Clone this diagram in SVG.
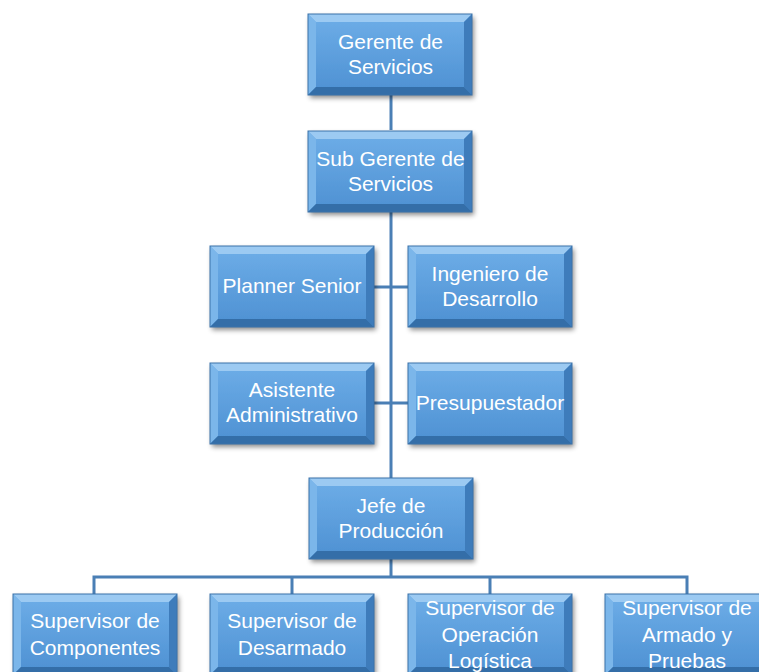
<svg xmlns="http://www.w3.org/2000/svg" xmlns:xlink="http://www.w3.org/1999/xlink" width="759" height="672" viewBox="0 0 759 672">
<style>
.t{font-family:"Liberation Sans",Arial,sans-serif;font-size:21px;fill:#ffffff;text-anchor:middle}
.c{stroke:#4a7fb5;stroke-width:3;fill:none}
</style>
<defs>
<linearGradient id="face" x1="0" y1="0" x2="0" y2="1">
<stop offset="0" stop-color="#6eaee8"/>
<stop offset="1" stop-color="#4d90d2"/>
</linearGradient>
<filter id="sh" x="-10%" y="-10%" width="130%" height="140%">
<feDropShadow dx="2" dy="3" stdDeviation="2.5" flood-color="#000" flood-opacity="0.45"/>
</filter>
<g id="box">
<rect x="0" y="0" width="164" height="81" fill="url(#face)" filter="url(#sh)"/>
<polygon points="0,0 164,0 156,8 8,8" fill="#9ccaf2"/>
<polygon points="0,0 8,8 8,73 0,81" fill="#7bb6ea"/>
<polygon points="164,0 164,81 156,73 156,8" fill="#3e7cbb"/>
<polygon points="0,81 8,73 156,73 164,81" fill="#346ea8"/>
<rect x="0" y="0" width="164" height="81" fill="none" stroke="#3a72aa" stroke-width="1"/>
</g>
</defs>
<rect width="759" height="672" fill="#ffffff"/>
<g id="connectors">
<line class="c" x1="391" y1="95" x2="391" y2="130"/>
<line class="c" x1="391" y1="212" x2="391" y2="478"/>
<line class="c" x1="374" y1="287" x2="408" y2="287"/>
<line class="c" x1="374" y1="403" x2="408" y2="403"/>
<line class="c" x1="391" y1="559" x2="391" y2="577"/>
<polyline class="c" points="94,594 94,577 687,577 687,594"/>
<line class="c" x1="292" y1="577" x2="292" y2="594"/>
<line class="c" x1="490" y1="577" x2="490" y2="594"/>
</g>
<g id="gerente">
<use xlink:href="#box" x="308" y="14"/>
<text class="t" x="390.5" y="49">Gerente de</text>
<text class="t" x="390.5" y="74">Servicios</text>
</g>
<g id="subgerente">
<use xlink:href="#box" x="308" y="131"/>
<text class="t" x="390.5" y="166">Sub Gerente de</text>
<text class="t" x="390.5" y="191">Servicios</text>
</g>
<g id="planner">
<use xlink:href="#box" x="210" y="246"/>
<text class="t" x="292" y="293">Planner Senior</text>
</g>
<g id="ingeniero">
<use xlink:href="#box" x="408" y="246"/>
<text class="t" x="490" y="281">Ingeniero de</text>
<text class="t" x="490" y="306">Desarrollo</text>
</g>
<g id="asistente">
<use xlink:href="#box" x="210" y="363"/>
<text class="t" x="292" y="397">Asistente</text>
<text class="t" x="292" y="422">Administrativo</text>
</g>
<g id="presupuestador">
<use xlink:href="#box" x="408" y="363"/>
<text class="t" x="490" y="410">Presupuestador</text>
</g>
<g id="jefe">
<use xlink:href="#box" x="309" y="478"/>
<text class="t" x="391" y="513">Jefe de</text>
<text class="t" x="391" y="538">Producción</text>
</g>
<g id="componentes">
<use xlink:href="#box" x="13" y="594"/>
<text class="t" x="95" y="628">Supervisor de</text>
<text class="t" x="95" y="655">Componentes</text>
</g>
<g id="desarmado">
<use xlink:href="#box" x="210" y="594"/>
<text class="t" x="292" y="628">Supervisor de</text>
<text class="t" x="292" y="655">Desarmado</text>
</g>
<g id="logistica">
<use xlink:href="#box" x="408" y="594"/>
<text class="t" x="490" y="615">Supervisor de</text>
<text class="t" x="490" y="642">Operación</text>
<text class="t" x="490" y="668">Logística</text>
</g>
<g id="armado">
<use xlink:href="#box" x="605" y="594"/>
<text class="t" x="687" y="615">Supervisor de</text>
<text class="t" x="687" y="642">Armado y</text>
<text class="t" x="687" y="668">Pruebas</text>
</g>
</svg>
